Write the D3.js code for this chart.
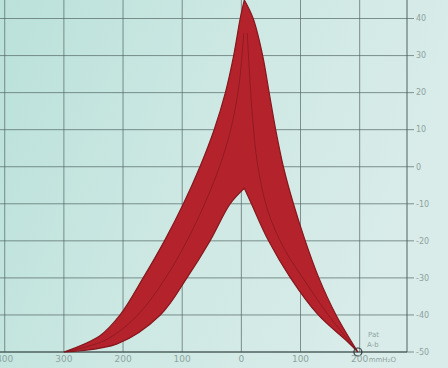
<!DOCTYPE html>
<html>
<head>
<meta charset="utf-8">
<script src="https://cdn.jsdelivr.net/npm/d3@7"></script>
<style>
  body { margin: 0; background: #d4eae6; }
  svg { display: block; }
</style>
</head>
<body>
<svg id="chart" width="448" height="368"></svg>
<script>
// tick values
const xTicks = [-400, -300, -200, -100, 0, 100, 200];
const yTicks = [40, 30, 20, 10, 0, -10, -20, -30, -40, -50];

// loop boundary (pressure mmH2O, value)
const outerLeft = [[-300, -50], [-239, -45.6], [-205, -40], [-166, -30], [-130, -20], [-98, -10], [-70, 0], [-46, 10], [-27, 20], [-13, 30], [-2, 40], [5, 45]];
const outerRight = [[5, 45], [20, 40], [36, 30], [47, 20], [58, 10], [71, 0], [88, -10], [108, -20], [131, -30], [160, -40], [197, -50]];
const innerRight = [[197, -50], [180, -47.3], [130, -40], [83, -30], [46, -20], [17, -10], [5, -5.8]];
const innerLeft = [[5, -5.8], [-19, -10], [-53, -20], [-92, -30], [-137, -40], [-210, -47.8], [-300, -50]];

// darker trace lines inside each limb
const midLeft = [[-300, -50], [-230, -46.8], [-175, -40], [-128, -30], [-92, -20], [-62, -10], [-37, 0], [-18, 10], [-4, 22], [4, 36]];
const midRight = [[10, 36], [18, 15], [28, 0], [45, -12], [72, -22], [108, -31], [147, -40], [197, -50]];

const svg = d3.select("#chart");
const W = 448, H = 368;

const x = d3.scaleLinear().domain([-408, 280]).range([0, 407]);
const y = d3.scaleLinear().domain([-50, 45]).range([352, 0]);

// paper background
const defs = svg.append("defs");
const grad = defs.append("linearGradient").attr("id", "paper")
    .attr("x1", "0").attr("x2", "1").attr("y1", "0").attr("y2", "0.3");
grad.append("stop").attr("offset", "0").attr("stop-color", "#bae1da");
grad.append("stop").attr("offset", "0.5").attr("stop-color", "#cde8e3");
grad.append("stop").attr("offset", "1").attr("stop-color", "#d9ece9");
svg.append("rect").attr("width", W).attr("height", H).attr("fill", "url(#paper)");

const gridColor = "#4f6260";

// grid
svg.append("g").selectAll("line")
    .data(yTicks)
    .join("line")
    .attr("x1", 0).attr("x2", 414)
    .attr("y1", d => y(d)).attr("y2", d => y(d))
    .attr("stroke", gridColor).attr("stroke-width", 0.9).attr("opacity", 0.75);

svg.append("g").selectAll("line")
    .data(xTicks)
    .join("line")
    .attr("x1", d => x(d)).attr("x2", d => x(d))
    .attr("y1", 0).attr("y2", y(-50))
    .attr("stroke", gridColor).attr("stroke-width", 0.9).attr("opacity", 0.75);

// frame lines
svg.append("line").attr("x1", x(280)).attr("x2", x(280)).attr("y1", 0).attr("y2", y(-50))
    .attr("stroke", gridColor).attr("stroke-width", 1);
svg.append("line").attr("x1", 0).attr("x2", x(280)).attr("y1", y(-50)).attr("y2", y(-50))
    .attr("stroke", "#3d4d4b").attr("stroke-width", 1.2);

// loop shape
const line = d3.line().x(d => x(d[0])).y(d => y(d[1])).curve(d3.curveCatmullRom.alpha(0.5));
const loopPath = [outerLeft, outerRight, innerRight, innerLeft]
    .map((seg, i) => {
        const p = line(seg);
        return i === 0 ? p : "L" + p.slice(1);
    })
    .join("") + "Z";

svg.append("path")
    .attr("d", loopPath)
    .attr("fill", "#b4232c")
    .attr("stroke", "#86171d")
    .attr("stroke-width", 1.2)
    .attr("stroke-linejoin", "miter");

svg.selectAll(".mid")
    .data([midLeft, midRight])
    .join("path")
    .attr("class", "mid")
    .attr("d", line)
    .attr("fill", "none")
    .attr("stroke", "#6e1216")
    .attr("stroke-width", 1)
    .attr("opacity", 0.5);

// marker at the end
svg.append("circle")
    .attr("cx", x(197)).attr("cy", y(-50)).attr("r", 4)
    .attr("fill", "none").attr("stroke", "#2e3a38").attr("stroke-width", 1.2);

// labels
const labelColor = "#8ea3a0";
svg.append("g").selectAll("text")
    .data(xTicks)
    .join("text")
    .attr("x", d => x(d))
    .attr("y", 362)
    .attr("text-anchor", "middle")
    .attr("font-family", "DejaVu Sans, sans-serif")
    .attr("font-size", 9)
    .attr("fill", labelColor)
    .text(d => Math.abs(d));

svg.append("text")
    .attr("x", x(200) + 9).attr("y", 362)
    .attr("font-family", "DejaVu Sans, sans-serif")
    .attr("font-size", 7)
    .attr("fill", labelColor)
    .text("mmH₂O");

svg.append("g").selectAll("text")
    .data(yTicks)
    .join("text")
    .attr("x", 416)
    .attr("y", d => y(d))
    .attr("dy", "0.35em")
    .attr("font-family", "DejaVu Sans, sans-serif")
    .attr("font-size", 8)
    .attr("fill", labelColor)
    .text(d => d);

svg.append("text")
    .attr("x", 368).attr("y", 337)
    .attr("font-family", "DejaVu Sans, sans-serif")
    .attr("font-size", 7)
    .attr("fill", labelColor)
    .text("Pat");
svg.append("text")
    .attr("x", 367).attr("y", 347)
    .attr("font-family", "DejaVu Sans, sans-serif")
    .attr("font-size", 7)
    .attr("fill", labelColor)
    .text("A-b");
</script>
</body>
</html>
